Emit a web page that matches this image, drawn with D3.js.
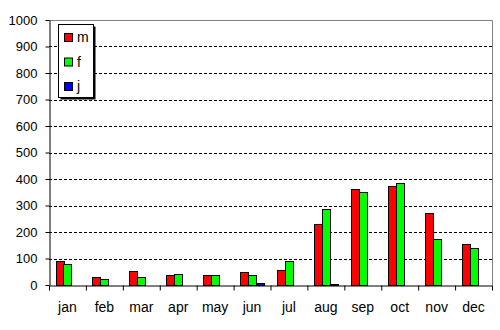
<!doctype html>
<html lang="en">
<head>
    <title>Monthly counts</title>
    <script src="https://d3js.org/d3.v7.min.js"></script>
    <style>
        body { margin: 0; background: #fff; }
        svg text { font-family: "Liberation Sans", Arial, sans-serif; fill: #000; }
    </style>
</head>
<body>
    <div id="chart"></div>
    <script>
        // Data
        var months  = ["jan", "feb", "mar", "apr", "may", "jun", "jul", "aug", "sep", "oct", "nov", "dec"];
        var series  = ["m", "f", "j"];
        var colors  = ["#ff0000", "#00ff00", "#0000ff"];
        var mValues = [92, 31, 53, 39, 39, 49, 57, 231, 363, 375, 273, 156];
        var fValues = [80, 24, 31, 43, 39, 38, 92, 288, 352, 386, 175, 141];
        var jValues = [0, 0, 0, 0, 0, 8, 0, 3, 0, 0, 0, 0];
        var yTicks  = [0, 100, 200, 300, 400, 500, 600, 700, 800, 900, 1000];

        var allValues = [mValues, fValues, jValues];

        // Graph size
        var width  = 500;
        var height = 330;
        var margin = { top: 20, right: 8, bottom: 45, left: 49 };
        var x0 = margin.left, x1 = width - margin.right;
        var y0 = height - margin.bottom, y1 = margin.top;

        var svg = d3.select("#chart")
            .append("svg")
            .attr("width", width)
            .attr("height", height);

        // Scales
        var x = d3.scaleBand().domain(months).range([x0, x1]).padding(0);
        var gap = 6.5;
        var xs = d3.scaleBand().domain(series).range([gap, x.bandwidth() - gap]).padding(0);
        var y = d3.scaleLinear().domain([0, 1000]).range([y0, y1]);
        var xEdge = d3.scaleLinear().domain([0, months.length]).range([x0, x1]);

        // Dashed gridlines
        svg.append("g")
            .selectAll("line")
            .data(yTicks.filter(function(d) { return d > 0 && d < 1000; }))
            .enter()
            .append("line")
            .attr("x1", x0)
            .attr("x2", x1)
            .attr("y1", function(d) { return Math.round(y(d)) + 0.5; })
            .attr("y2", function(d) { return Math.round(y(d)) + 0.5; })
            .attr("stroke", "#000")
            .attr("stroke-dasharray", "3,2");

        // Grey frame (top and right)
        svg.append("path")
            .attr("d", "M" + x0 + "," + (y1 + 0.5) + "H" + (x1 + 0.5) + "V" + y0)
            .attr("fill", "none")
            .attr("stroke", "#808080");

        // Bars
        var group = svg.append("g")
            .selectAll("g")
            .data(series)
            .enter()
            .append("g")
            .attr("fill", function(d, i) { return colors[i]; });

        group.selectAll("rect")
            .data(function(s, i) {
                return months.map(function(m, j) { return { month: m, series: s, value: allValues[i][j] }; })
                    .filter(function(d) { return d.value > 0; });
            })
            .enter()
            .append("rect")
            .attr("x", function(d) { return Math.round(x(d.month) + xs(d.series)) + 0.5; })
            .attr("y", function(d) { return Math.round(y(d.value)) + 0.5; })
            .attr("width", Math.round(xs.bandwidth()))
            .attr("height", function(d) { return Math.round(y0 - y(d.value)); })
            .attr("stroke", "#000")
            .attr("stroke-width", 1);

        // Y axis
        var yAxis = svg.append("g")
            .attr("transform", "translate(" + (x0 + 0.5) + ",0)")
            .call(d3.axisLeft(y).tickValues(yTicks).tickFormat(d3.format("d")).tickSize(4).tickSizeOuter(0).tickPadding(8));
        yAxis.selectAll("text").attr("font-size", 13).attr("font-family", null);
        yAxis.selectAll("line").attr("stroke", "#000");
        yAxis.select(".domain").attr("stroke", "#000");

        // X axis: ticks on category edges
        var xAxis = svg.append("g")
            .attr("transform", "translate(0," + (y0 + 0.5) + ")")
            .call(d3.axisBottom(xEdge).tickValues(d3.range(months.length + 1)).tickFormat("").tickSize(5).tickSizeOuter(0));
        xAxis.selectAll("line").attr("stroke", "#000");
        xAxis.select(".domain").attr("stroke", "#000");

        // X labels, centred on each category
        var xLabels = svg.append("g")
            .attr("transform", "translate(0," + y0 + ")")
            .call(d3.axisBottom(x).tickSize(0).tickPadding(17));
        xLabels.select(".domain").remove();
        xLabels.selectAll("text").attr("font-size", 14).attr("font-family", null);

        // Legend
        var legend = svg.append("g").attr("transform", "translate(58,24)");
        legend.append("rect")
            .attr("x", 2.5).attr("y", 2.5)
            .attr("width", 35).attr("height", 73)
            .attr("fill", "#000");
        legend.append("rect")
            .attr("x", 0.5).attr("y", 0.5)
            .attr("width", 35).attr("height", 73)
            .attr("fill", "#fff")
            .attr("stroke", "#000");

        var item = legend.selectAll(".item")
            .data(series)
            .enter()
            .append("g")
            .attr("class", "item")
            .attr("transform", function(d, i) { return "translate(0," + (i * 24.5) + ")"; });

        item.append("rect")
            .attr("x", 6.5).attr("y", 9.5)
            .attr("width", 8).attr("height", 8)
            .attr("fill", function(d, i) { return colors[i]; })
            .attr("stroke", "#000");

        item.append("text")
            .attr("x", 19)
            .attr("y", 18)
            .attr("font-size", 14)
            .text(function(d) { return d; });
    </script>
</body>
</html>
